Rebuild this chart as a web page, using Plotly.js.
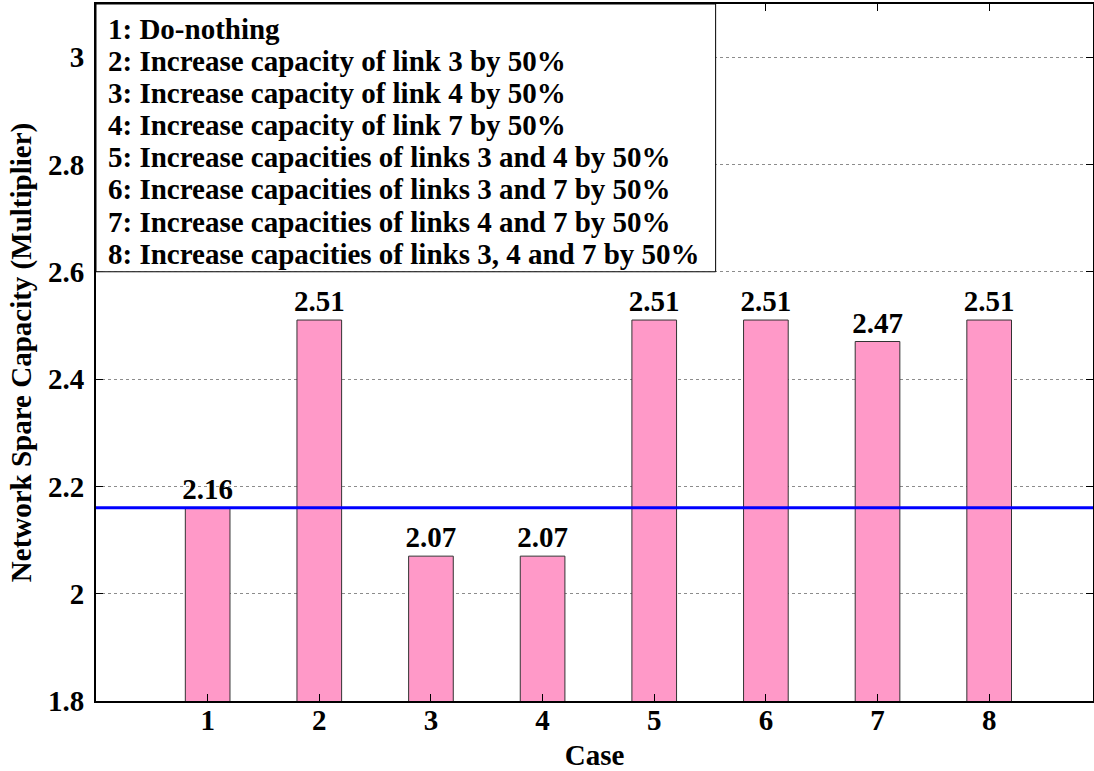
<!DOCTYPE html>
<html>
<head>
<meta charset="utf-8">
<script src="https://cdn.plot.ly/plotly-3.0.1.min.js"></script>
<style>html,body{margin:0;padding:0;background:#fff;}</style>
</head>
<body>
<div id="chart" style="width:1094px;height:771px;"></div>
<script>
const cases = [1, 2, 3, 4, 5, 6, 7, 8];
const spareCapacity = [2.16, 2.51, 2.07, 2.07, 2.51, 2.51, 2.47, 2.51];
const valueLabels = ["2.16", "2.51", "2.07", "2.07", "2.51", "2.51", "2.47", "2.51"];
const baselineValue = 2.16;
const yTicks = [1.8, 2, 2.2, 2.4, 2.6, 2.8, 3];
const yTickLabels = ["1.8", "2", "2.2", "2.4", "2.6", "2.8", "3"];
const caseDescriptions = [
  "1: Do-nothing",
  "2: Increase capacity of link 3 by 50%",
  "3: Increase capacity of link 4 by 50%",
  "4: Increase capacity of link 7 by 50%",
  "5: Increase capacities of links 3 and 4 by 50%",
  "6: Increase capacities of links 3 and 7 by 50%",
  "7: Increase capacities of links 4 and 7 by 50%",
  "8: Increase capacities of links 3, 4 and 7 by 50%"
];

const serif = '"Liberation Serif", "Times New Roman", serif';
const fs = 29;
const yMax = 3.099;
const plotH = 771 - 4 - 70;

const trace = {
  type: "bar",
  x: cases,
  y: spareCapacity,
  width: 0.4,
  marker: {color: "#FF99C8", line: {color: "#333333", width: 1}},
  text: valueLabels,
  textposition: "outside",
  constraintext: "none",
  cliponaxis: false,
  textfont: {family: serif, size: fs, color: "#000", weight: "bold"},
  hoverinfo: "x+y"
};

const annotations = caseDescriptions.map((t, i) => ({
  text: "<b>" + t + "</b>",
  xref: "paper", yref: "paper",
  x: 0.01, y: 1 - (24.5 + i * 32.2) / plotH,
  xanchor: "left", yanchor: "middle", align: "left",
  showarrow: false,
  font: {family: serif, size: fs, color: "#000"}
}));

const layout = {
  width: 1094, height: 771,
  margin: {l: 96, r: 1, t: 4, b: 70},
  paper_bgcolor: "#fff", plot_bgcolor: "#fff",
  showlegend: false,
  xaxis: {
    range: [0, 8.93],
    tickvals: cases, ticktext: cases.map(String),
    ticks: "inside", ticklen: 7, tickcolor: "#000", tickwidth: 1,
    showline: true, linecolor: "#000", linewidth: 2, mirror: "ticks",
    showgrid: false, zeroline: false,
    tickfont: {family: serif, size: fs, color: "#000", weight: "bold"},
    ticklabelstandoff: -8,
    title: {text: "<b>Case</b>", font: {family: serif, size: fs, color: "#000"}, standoff: 18}
  },
  yaxis: {
    range: [1.8, yMax],
    tickvals: yTicks, ticktext: yTickLabels,
    ticks: "inside", ticklen: 7, tickcolor: "#000", tickwidth: 1,
    showline: true, linecolor: "#000", linewidth: 2, mirror: "ticks",
    showgrid: true, gridcolor: "#8c8c8c", griddash: "dot", gridwidth: 1,
    zeroline: false,
    tickfont: {family: serif, size: fs, color: "#000", weight: "bold"},
    ticklabelstandoff: 4,
    title: {text: "<b>Network Spare Capacity (Multiplier)</b>", font: {family: serif, size: fs, color: "#000"}, standoff: 8}
  },
  shapes: [
    {type: "line", xref: "paper", yref: "y", x0: 0, x1: 1, y0: baselineValue, y1: baselineValue,
     line: {color: "#0000FF", width: 3}, layer: "above"},
    {type: "rect", xref: "x", yref: "y", x0: 0, x1: 5.55, y0: 2.6, y1: yMax,
     fillcolor: "#fff", line: {color: "#000", width: 1}, layer: "above"}
  ],
  annotations: annotations
};

Plotly.newPlot("chart", [trace], layout, {staticPlot: true});
</script>
</body>
</html>
